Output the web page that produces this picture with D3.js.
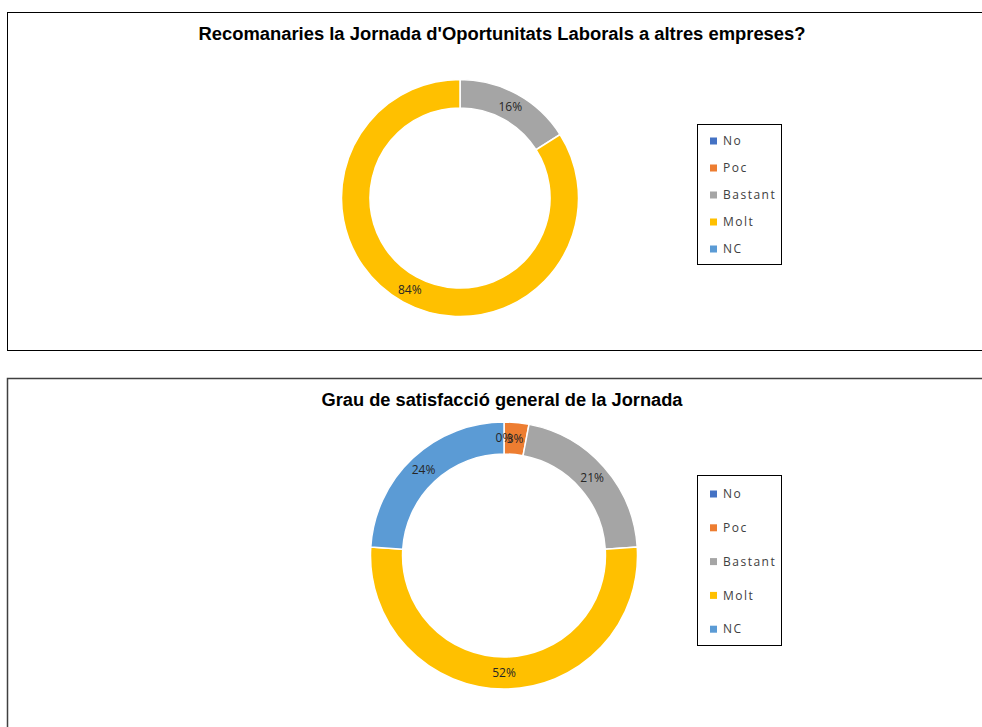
<!DOCTYPE html>
<meta charset="utf-8">
<style>
    body { margin: 0; background: #fff; }
    .title { font: bold 18px "Liberation Sans", Arial, sans-serif; fill: #000; }
    .lbl { font: 12px "Open Sans", "Noto Sans", sans-serif; fill: #262626; }
    .leg text { font: 12px "Open Sans", "Noto Sans", sans-serif; fill: #404040; letter-spacing: 1.5px; }
</style>
<body>
<script src="https://cdnjs.cloudflare.com/ajax/libs/d3/7.8.5/d3.min.js"></script>
<script>
    var categories = ["No", "Poc", "Bastant", "Molt", "NC"];
    var colors = ["#4472C4", "#ED7D31", "#A5A5A5", "#FFC000", "#5B9BD5"];
    // chart 1: empty answers for No, Poc, NC
    var recomanaValues = [null, null, 16, 84, null];
    var satisfaccioValues = [0, 3, 21, 52, 24];

    var charts = [
        {title: "Recomanaries la Jornada d'Oportunitats Laborals a altres empreses?", values: recomanaValues,
         box: {x: 7.5, y: 12.5, h: 338}, titleY: 40, titleX: 502, tw: 607, cx: 460, cy: 198, r: 118.5,
         legend: {x: 697.5, y: 124.5, w: 84, h: 140, first: 141, step: 27}},
        {title: "Grau de satisfacció general de la Jornada", values: satisfaccioValues,
         box: {x: 7.5, y: 378.5, h: 400}, titleY: 406, titleX: 502, tw: 361, cx: 504, cy: 555.5, r: 133.5,
         legend: {x: 697.5, y: 475.5, w: 84, h: 170, first: 494, step: 33.8}}
    ];

    var svg = d3.select("body").append("svg")
        .attr("width", 982)
        .attr("height", 727);

    var color = d3.scaleOrdinal().domain(categories).range(colors);

    charts.forEach(function(c) {
        var g = svg.append("g");
        g.append("rect")
            .attr("x", c.box.x).attr("y", c.box.y)
            .attr("width", 1000).attr("height", c.box.h)
            .attr("fill", "#fff")
            .attr("stroke", c === charts[0] ? "#000" : "#404040")
            .attr("stroke-width", c === charts[0] ? 1 : 1.5);

        g.append("text")
            .attr("class", "title")
            .attr("x", c.titleX)
            .attr("y", c.titleY)
            .attr("text-anchor", "middle")
            .attr("textLength", c.tw)
            .attr("lengthAdjust", "spacingAndGlyphs")
            .text(c.title);

        var data = categories.map(function(k, i) { return {key: k, value: c.values[i]}; });
        var pie = d3.pie().sort(null).value(function(d) { return d.value || 0; });
        var arcs = pie(data);
        var inner = c.r * 0.76;
        var arc = d3.arc().innerRadius(inner).outerRadius(c.r);
        var labelArc = d3.arc().innerRadius((inner + c.r) / 2).outerRadius((inner + c.r) / 2);

        var dg = g.append("g").attr("transform", "translate(" + c.cx + "," + c.cy + ")");
        dg.selectAll("path")
            .data(arcs.filter(function(d) { return d.data.value; }))
            .enter().append("path")
            .attr("d", arc)
            .attr("fill", function(d) { return color(d.data.key); })
            .attr("stroke", "#fff")
            .attr("stroke-width", 1.5);

        dg.selectAll("text")
            .data(arcs.filter(function(d) { return d.data.value !== null; }))
            .enter().append("text")
            .attr("class", "lbl")
            .attr("transform", function(d) { return "translate(" + labelArc.centroid(d) + ")"; })
            .attr("text-anchor", "middle")
            .attr("dy", "0.35em")
            .text(function(d) { return d.data.value + "%"; });

        var lg = g.append("g").attr("class", "leg");
        lg.append("rect")
            .attr("x", c.legend.x).attr("y", c.legend.y)
            .attr("width", c.legend.w).attr("height", c.legend.h)
            .attr("fill", "#fff").attr("stroke", "#000").attr("stroke-width", 1);
        var items = lg.selectAll("g.item")
            .data(categories)
            .enter().append("g")
            .attr("class", "item")
            .attr("transform", function(d, i) { return "translate(710," + (c.legend.first + i * c.legend.step) + ")"; });
        items.append("rect")
            .attr("x", 0).attr("y", -3.5)
            .attr("width", 7).attr("height", 7)
            .attr("fill", function(d) { return color(d); });
        items.append("text")
            .attr("x", 13)
            .attr("dy", "0.35em")
            .text(function(d) { return d; });
    });
</script>
